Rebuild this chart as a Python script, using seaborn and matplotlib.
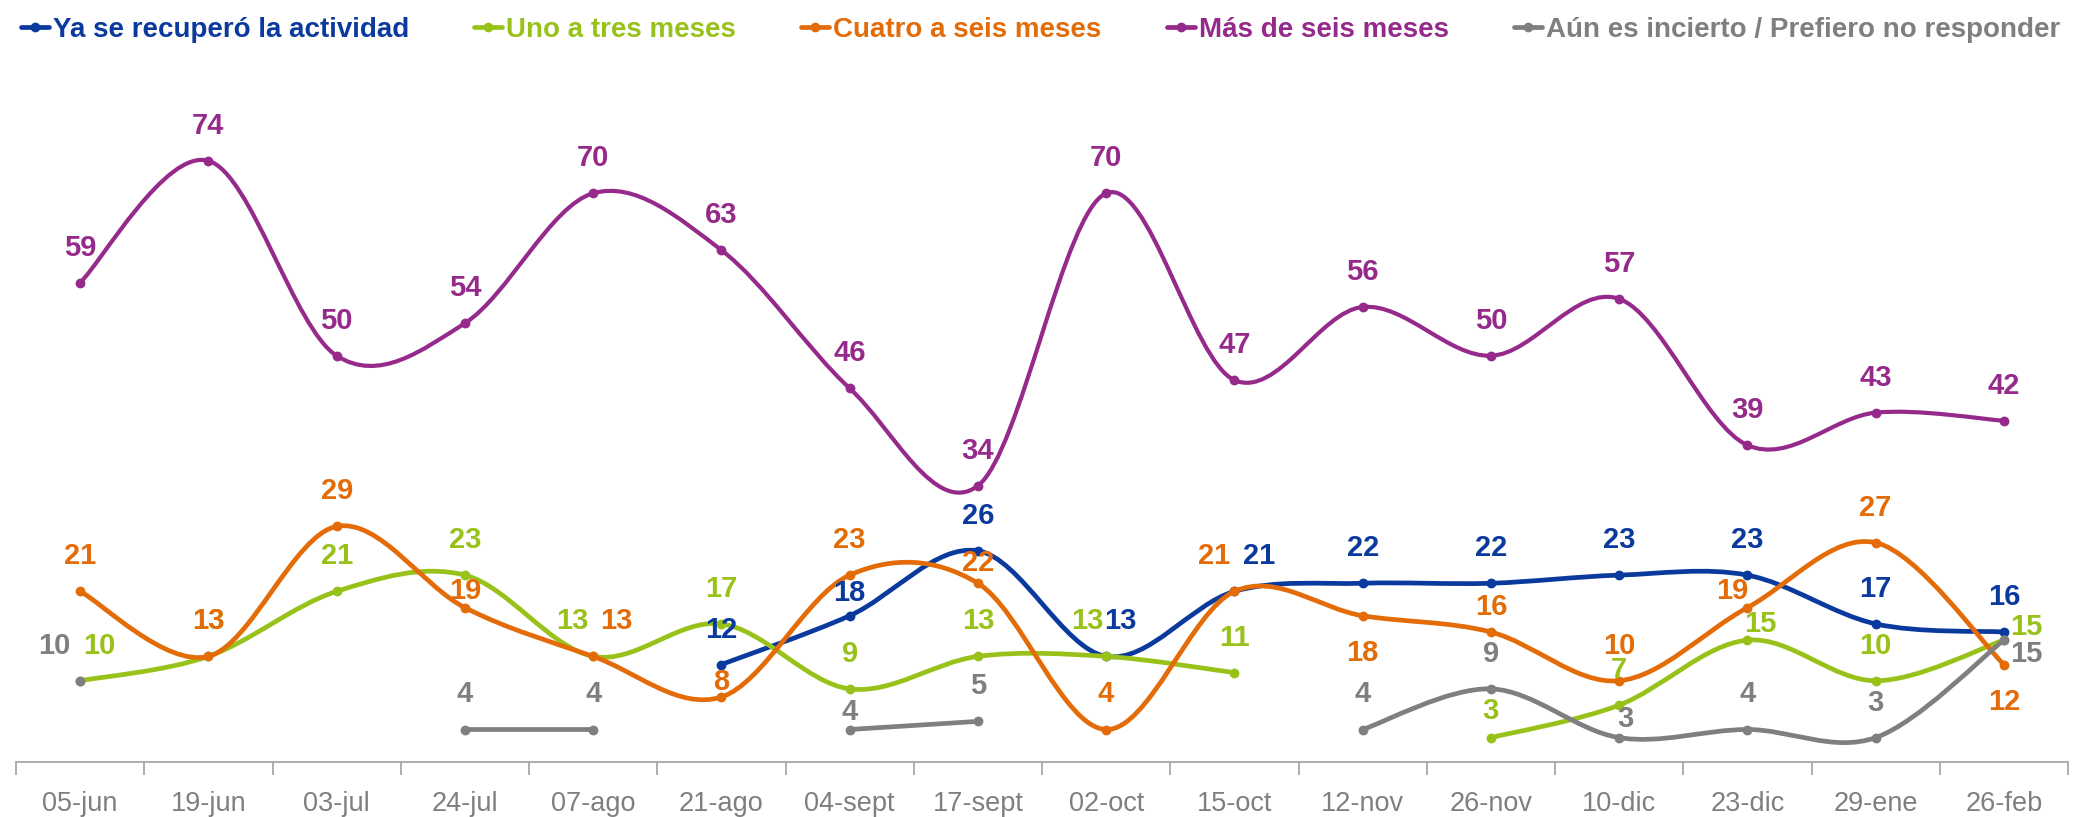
import numpy as np
import pandas as pd
import matplotlib
matplotlib.use('Agg')
import matplotlib.pyplot as plt
from matplotlib.path import Path
from matplotlib.patches import PathPatch
from matplotlib.lines import Line2D
import seaborn as sns

nan = np.nan

fechas = ['05-jun', '19-jun', '03-jul', '24-jul', '07-ago', '21-ago', '04-sept', '17-sept',
          '02-oct', '15-oct', '12-nov', '26-nov', '10-dic', '23-dic', '29-ene', '26-feb']

ya_recupero = [nan, nan, nan, nan, nan, 12, 18, 26, 13, 21, 22, 22, 23, 23, 17, 16]
uno_a_tres = [10, 13, 21, 23, 13, 17, 9, 13, 13, 11, nan, 3, 7, 15, 10, 15]
cuatro_a_seis = [21, 13, 29, 19, 13, 8, 23, 22, 4, 21, 18, 16, 10, 19, 27, 12]
mas_de_seis = [59, 74, 50, 54, 70, 63, 46, 34, 70, 47, 56, 50, 57, 39, 43, 42]
incierto = [10, nan, nan, 4, 4, nan, 4, 5, nan, nan, 4, 9, 3, 4, 3, 15]

nombres = ['Ya se recuperó la actividad', 'Uno a tres meses', 'Cuatro a seis meses',
           'Más de seis meses', 'Aún es incierto / Prefiero no responder']
valores = [ya_recupero, uno_a_tres, cuatro_a_seis, mas_de_seis, incierto]
colores = ['#0B3A9F', '#98C21A', '#E36C09', '#952A8A', '#7F7F7F']
grosor = [3.4, 3.4, 3.4, 3.0, 3.4]

# label offsets in pixels (dx, dy); anything not listed goes straight above the point
ARRIBA = (0, 35)
ajustes = [
    {6: (0, 23), 8: (14, 35), 9: (25, 35)},
    {0: (19, 35), 4: (-21, 35), 8: (-19, 35), 11: (0, 27), 13: (13, 16), 15: (22, 13)},
    {3: (0, 17), 4: (23, 35), 5: (0, 15), 7: (0, 20), 9: (-20, 35), 10: (0, -37),
     11: (0, 25), 13: (-15, 17), 15: (0, -38)},
    {},
    {0: (-26, 35), 6: (0, 18), 12: (6, 19), 15: (22, -14)},
]


def smooth_path(xs, ys):
    # Excel style smoothed line: catmull-rom drawn as cubic bezier segments
    pts = np.column_stack([xs, ys]).astype(float)
    n = len(pts)
    verts = [pts[0]]
    codes = [Path.MOVETO]
    for i in range(n - 1):
        p0 = pts[max(i - 1, 0)]
        p1 = pts[i]
        p2 = pts[i + 1]
        p3 = pts[min(i + 2, n - 1)]
        verts += [p1 + (p2 - p0) / 6, p2 - (p3 - p1) / 6, p2]
        codes += [Path.CURVE4] * 3
    return Path(verts, codes)


def runs(vals):
    out, cur = [], []
    for i, v in enumerate(vals):
        if np.isnan(v):
            if cur:
                out.append(cur)
            cur = []
        else:
            cur.append(i)
    if cur:
        out.append(cur)
    return out


sns.set_theme(style='white')
plt.rcParams['font.family'] = ['Liberation Sans', 'DejaVu Sans']

fig = plt.figure(figsize=(20.81, 8.17), dpi=100)
ax = fig.add_axes([16 / 2081, 55 / 817, 2052 / 2081, 650 / 817])

pos = np.arange(len(fechas))
for k, (nombre, vals, col) in enumerate(zip(nombres, valores, colores)):
    vals = np.array(vals, dtype=float)
    for r in runs(vals):
        ax.add_patch(PathPatch(smooth_path(pos[r], vals[r]), fill=False, edgecolor=col,
                               lw=grosor[k], capstyle='round', joinstyle='round', zorder=2 + k))
    df = pd.DataFrame({'pos': pos, 'valor': vals}).dropna()
    sns.scatterplot(data=df, x='pos', y='valor', color=col, s=50, linewidth=0,
                    ax=ax, zorder=2.5 + k, legend=False)

for k, (vals, col) in enumerate(zip(valores, colores)):
    for i, v in enumerate(vals):
        if np.isnan(v):
            continue
        dx, dy = ajustes[k].get(i, ARRIBA)
        ax.annotate(f'{int(v)}', (pos[i], v), xytext=(dx, dy), textcoords='offset pixels',
                    ha='center', va='center', fontsize=21, fontweight='bold', color=col,
                    zorder=20, annotation_clip=False)

ax.set_xlim(-0.5, len(fechas) - 0.5)
ax.set_ylim(0, 80)
ax.set_xlabel('')
ax.set_ylabel('')
ax.set_yticks([])
ax.set_xticks(pos)
ax.set_xticklabels(fechas)
ax.set_xticks(np.arange(-0.5, len(fechas)), minor=True)
ax.tick_params(axis='x', which='major', length=0, pad=21, labelsize=19.5, labelcolor='#7F7F7F')
ax.tick_params(axis='x', which='minor', length=9, width=1.4, color='#ADADAD', direction='out', bottom=True)
for s in ['top', 'left', 'right']:
    ax.spines[s].set_visible(False)
ax.spines['bottom'].set_color('#ADADAD')
ax.spines['bottom'].set_linewidth(1.4)

handles = [Line2D([], [], color=c, lw=3.4, marker='o', ms=6) for c in colores]
leg = fig.legend(handles, nombres, loc='upper center', bbox_to_anchor=(0.5, 1.0), ncol=5,
                 frameon=False, handlelength=1.0, handletextpad=0.15, columnspacing=2.35,
                 prop={'size': 20, 'weight': 'bold'}, borderaxespad=0.2)
for t, c in zip(leg.get_texts(), colores):
    t.set_color(c)

fig.savefig('out.png', dpi=100)
